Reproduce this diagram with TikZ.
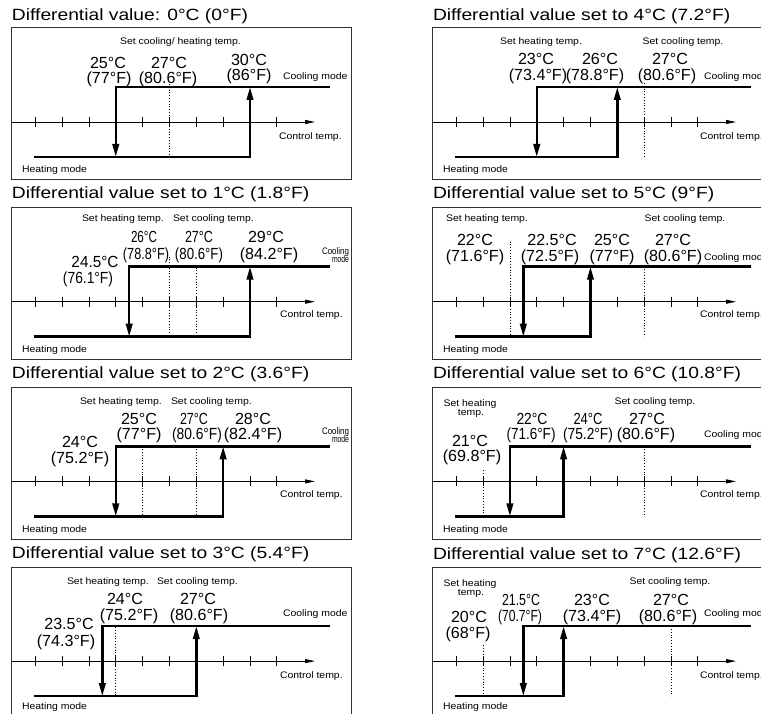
\documentclass[tikz,border=0pt]{standalone}
\usepackage{fontspec}
\setmainfont{Liberation Sans}
\usetikzlibrary{arrows.meta}
\newcommand\fbig{\fontsize{16.1}{18}\selectfont}
\newcommand\fsm{\fontsize{9.5}{10.5}\selectfont}
\newcommand\ttlT[1]{\scalebox{1.18}[1]{\fontsize{16.3}{18}\selectfont #1}}
\newcommand\smL[1]{\scalebox{1.1}[1]{\fsm #1}}
\newcommand\bigT[1]{{\fbig #1}}
\newcommand\cndT[2]{\resizebox{#1pt}{\height}{\fbig #2}}
\newcommand\kx[1]{35.2+26.85*#1}
\tikzset{
  boxl/.style={line width=1pt, draw=black!80},
  axisl/.style={line width=0.8pt, -{Triangle[length=10pt,width=4pt]}},
  tickl/.style={line width=0.8pt},
  hl/.style={line width=2.4pt, line cap=rect},
  harr/.style={line width=2.4pt, line cap=rect, -{Triangle[length=13pt,width=6.5pt]}},
  dotl/.style={line width=0.7pt, dash pattern=on 0.8pt off 2pt},
  every node/.style={inner sep=0pt, outer sep=0pt}
}
\newcommand\hpanel[5]{%
\begin{scope}[xshift=#1pt,yshift=-#2pt]
 \draw[boxl] (11.5,0) rectangle (351.5,152);
 \draw[axisl] (11.5,94) -- (315,94);
 \foreach \k in {0,...,9}{\draw[tickl] ({\kx{\k}},89) -- ({\kx{\k}},99);}
 #5
 \draw[hl] ({\kx{#3}},59) -- (328.5,59);
 \draw[hl] (35.2,129) -- ({\kx{#4}},129);
 \draw[harr] ({\kx{#3}},59) -- ({\kx{#3}},129);
 \draw[harr] ({\kx{#4}},129) -- ({\kx{#4}},59);
\end{scope}}
\begin{document}
\begin{tikzpicture}[x=1pt,y=-1pt]
\useasboundingbox (0,0) rectangle (761,714);
\clip (0,0) rectangle (761,714);
\fill[white] (0,0) rectangle (761,714);
% ---------- panels ----------
\hpanel{0}{28}{3}{8}{\draw[dotl] ({\kx{5}},56) -- ({\kx{5}},129);}
\hpanel{0}{207.7}{3.5}{8}{\draw[dotl] ({\kx{5}},49) -- ({\kx{5}},129);
  \draw[dotl] ({\kx{6}},60) -- ({\kx{6}},129);}
\hpanel{0}{387.4}{3}{7}{\draw[dotl] ({\kx{4}},59) -- ({\kx{4}},129);
  \draw[dotl] ({\kx{6}},59) -- ({\kx{6}},129);}
\hpanel{0}{567.1}{2.5}{6}{\draw[dotl] ({\kx{3}},60) -- ({\kx{3}},129);}
\hpanel{421}{28}{3}{6}{\draw[dotl] ({\kx{7}},55) -- ({\kx{7}},129);}
\hpanel{421}{207.7}{2.5}{5}{\draw[dotl] ({\kx{2}},34) -- ({\kx{2}},129);
  \draw[dotl] ({\kx{7}},59) -- ({\kx{7}},129);}
\hpanel{421}{387.4}{2}{4}{\draw[dotl] ({\kx{1}},83) -- ({\kx{1}},129);
  \draw[dotl] ({\kx{7}},59) -- ({\kx{7}},129);}
\hpanel{421}{567.1}{2.5}{4}{\draw[dotl] ({\kx{1}},78) -- ({\kx{1}},129);
  \draw[dotl] ({\kx{8}},59) -- ({\kx{8}},129);}
% ---------- L1 ----------
\node[anchor=west] (l1t) at (12,16.7) {\ttlT{Differential value: 0°C (0°F)}};
\node (l1s) at (180.5,41.7) {\smL{Set cooling/ heating temp.}};
\node (l1a) at (108,62.8) {\bigT{25°C}};
\node (l1b) at (109,79.3) {\bigT{(77°F)}};
\node (l1c) at (169,62.8) {\bigT{27°C}};
\node (l1d) at (168,79.3) {\bigT{(80.6°F)}};
\node (l1e) at (249,59.8) {\bigT{30°C}};
\node (l1f) at (249,76.3) {\bigT{(86°F)}};
\node[anchor=west] (l1cm) at (283,77.5) {\smL{Cooling mode}};
\node[anchor=west] (l1ct) at (279,137.5) {\smL{Control temp.}};
\node[anchor=west] (l1hm) at (22,170) {\smL{Heating mode}};
% ---------- L2 ----------
\node[anchor=west] (l2t) at (12,194.7) {\ttlT{Differential value set to 1°C (1.8°F)}};
\node[anchor=west] (l2s) at (82,218.7) {\smL{Set heating temp.}};
\node[anchor=west] (l2r) at (173,218.7) {\smL{Set cooling temp.}};
\node (l2a) at (144,237) {\cndT{26}{26°C}};
\node (l2b) at (146,255.5) {\cndT{46}{(78.8°F)}};
\node (l2c) at (199,237) {\cndT{28}{27°C}};
\node (l2d) at (199,255.5) {\cndT{48}{(80.6°F)}};
\node (l2e) at (266,237) {\bigT{29°C}};
\node (l2f) at (269,255.5) {\bigT{(84.2°F)}};
\node (l2g) at (95,262) {\cndT{47}{24.5°C}};
\node (l2h) at (88,279) {\cndT{50}{(76.1°F)}};
\node[anchor=east] (l2cm) at (349,251.7) {\resizebox{27pt}{\height}{\fsm Cooling}};
\node[anchor=east] (l2cn) at (349,259.5) {\resizebox{17pt}{\height}{\fsm mode}};
\node[anchor=west] (l2ct) at (280,315.3) {\smL{Control temp.}};
\node[anchor=west] (l2hm) at (22,350) {\smL{Heating mode}};
% ---------- L3 ----------
\node[anchor=west] (l3t) at (12,374.2) {\ttlT{Differential value set to 2°C (3.6°F)}};
\node[anchor=west] (l3s) at (80,401.7) {\smL{Set heating temp.}};
\node[anchor=west] (l3r) at (171,401.7) {\smL{Set cooling temp.}};
\node (l3a) at (139,418.7) {\bigT{25°C}};
\node (l3b) at (139,435.8) {\bigT{(77°F)}};
\node (l3c) at (194,418.7) {\cndT{28}{27°C}};
\node (l3d) at (197,435.8) {\cndT{50}{(80.6°F)}};
\node (l3e) at (253,418.7) {\bigT{28°C}};
\node (l3f) at (253,435.8) {\bigT{(82.4°F)}};
\node (l3g) at (80,442) {\bigT{24°C}};
\node (l3h) at (80,459) {\bigT{(75.2°F)}};
\node[anchor=east] (l3cm) at (349,431.7) {\resizebox{27pt}{\height}{\fsm Cooling}};
\node[anchor=east] (l3cn) at (349,439.5) {\resizebox{17pt}{\height}{\fsm mode}};
\node[anchor=west] (l3ct) at (280,495.3) {\smL{Control temp.}};
\node[anchor=west] (l3hm) at (22,530) {\smL{Heating mode}};
% ---------- L4 ----------
\node[anchor=west] (l4t) at (12,554.2) {\ttlT{Differential value set to 3°C (5.4°F)}};
\node[anchor=west] (l4s) at (67,582) {\smL{Set heating temp.}};
\node[anchor=west] (l4r) at (157,582) {\smL{Set cooling temp.}};
\node (l4a) at (125,598.5) {\bigT{24°C}};
\node (l4b) at (129,616) {\bigT{(75.2°F)}};
\node (l4c) at (198,598.5) {\bigT{27°C}};
\node (l4d) at (199,616) {\bigT{(80.6°F)}};
\node (l4e) at (69,623.5) {\bigT{23.5°C}};
\node (l4f) at (66,642) {\bigT{(74.3°F)}};
\node[anchor=west] (l4cm) at (283,613.7) {\smL{Cooling mode}};
\node[anchor=west] (l4ct) at (280,675.8) {\smL{Control temp.}};
\node[anchor=west] (l4hm) at (22,707) {\smL{Heating mode}};
% ---------- R1 ----------
\node[anchor=west] (r1t) at (433,16.7) {\ttlT{Differential value set to 4°C (7.2°F)}};
\node (r1s) at (541,41.7) {\smL{Set heating temp.}};
\node (r1r) at (683,41.7) {\smL{Set cooling temp.}};
\node (r1a) at (536,59) {\bigT{23°C}};
\node (r1b) at (538,76) {\bigT{(73.4°F)}};
\node (r1c) at (600,59) {\bigT{26°C}};
\node (r1d) at (595,76) {\bigT{(78.8°F)}};
\node (r1e) at (670,59) {\bigT{27°C}};
\node (r1f) at (667,76) {\bigT{(80.6°F)}};
\node[anchor=west] (r1cm) at (704,77) {\smL{Cooling mode}};
\node[anchor=west] (r1ct) at (700,137) {\smL{Control temp.}};
\node[anchor=west] (r1hm) at (443,170) {\smL{Heating mode}};
% ---------- R2 ----------
\node[anchor=west] (r2t) at (433,194.7) {\ttlT{Differential value set to 5°C (9°F)}};
\node (r2s) at (487,218.7) {\smL{Set heating temp.}};
\node (r2r) at (685,218.7) {\smL{Set cooling temp.}};
\node (r2a) at (475,239.5) {\bigT{22°C}};
\node (r2b) at (475,257) {\bigT{(71.6°F)}};
\node (r2c) at (552,239.5) {\bigT{22.5°C}};
\node (r2d) at (550,257) {\bigT{(72.5°F)}};
\node (r2e) at (612,239.5) {\bigT{25°C}};
\node (r2f) at (612,257) {\bigT{(77°F)}};
\node (r2g) at (673,239.5) {\bigT{27°C}};
\node (r2h) at (673,257) {\bigT{(80.6°F)}};
\node[anchor=west] (r2cm) at (704,257.7) {\smL{Cooling mode}};
\node[anchor=west] (r2ct) at (700,315) {\smL{Control temp.}};
\node[anchor=west] (r2hm) at (443,350) {\smL{Heating mode}};
% ---------- R3 ----------
\node[anchor=west] (r3t) at (433,374.2) {\ttlT{Differential value set to 6°C (10.8°F)}};
\node (r3s) at (470,404) {\smL{Set heating}};
\node (r3u) at (471,413) {\smL{temp.}};
\node (r3r) at (655,401.7) {\smL{Set cooling temp.}};
\node (r3a) at (532,418.5) {\cndT{31}{22°C}};
\node (r3b) at (531,435.8) {\cndT{49}{(71.6°F)}};
\node (r3c) at (588,418.5) {\cndT{29}{24°C}};
\node (r3d) at (588,435.8) {\cndT{50}{(75.2°F)}};
\node (r3e) at (647,418.5) {\bigT{27°C}};
\node (r3f) at (646,435.8) {\bigT{(80.6°F)}};
\node (r3g) at (470,440.5) {\bigT{21°C}};
\node (r3h) at (472,457.5) {\bigT{(69.8°F)}};
\node[anchor=west] (r3cm) at (704,435) {\smL{Cooling mode}};
\node[anchor=west] (r3ct) at (700,495) {\smL{Control temp.}};
\node[anchor=west] (r3hm) at (443,530) {\smL{Heating mode}};
% ---------- R4 ----------
\node[anchor=west] (r4t) at (433,555) {\ttlT{Differential value set to 7°C (12.6°F)}};
\node (r4s) at (470,583.7) {\smL{Set heating}};
\node (r4u) at (471,593.3) {\smL{temp.}};
\node (r4r) at (670,582) {\smL{Set cooling temp.}};
\node (r4a) at (521,600.3) {\cndT{38}{21.5°C}};
\node (r4b) at (520,617.5) {\cndT{44}{(70.7°F)}};
\node (r4c) at (592,600.3) {\bigT{23°C}};
\node (r4d) at (592,617.5) {\bigT{(73.4°F)}};
\node (r4e) at (671,600.3) {\bigT{27°C}};
\node (r4f) at (668,617.5) {\bigT{(80.6°F)}};
\node (r4g) at (469,616.5) {\bigT{20°C}};
\node (r4h) at (468,634) {\bigT{(68°F)}};
\node[anchor=west] (r4cm) at (704,613.7) {\smL{Cooling mode}};
\node[anchor=west] (r4ct) at (700,675.8) {\smL{Control temp.}};
\node[anchor=west] (r4hm) at (443,707) {\smL{Heating mode}};
\end{tikzpicture}
\end{document}
